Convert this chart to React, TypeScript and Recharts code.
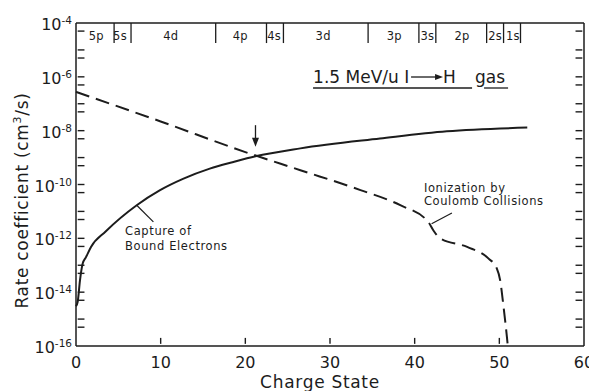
import { LineChart, Line, XAxis, YAxis, ReferenceDot, ReferenceLine, Label } from 'recharts';

// values (rate coefficients in cm^3/s)
const captureQ = [0, 0.2, 0.47, 0.79, 1.18, 1.77, 3.5, 7.17, 9.93, 12.7, 15.8, 18.6, 21.2, 26.5, 35.9, 43.8, 53.3];
const captureRate = [3e-15, 4.4e-15, 2.75e-14, 1.15e-13, 2.0e-13, 4.8e-13, 1.8e-12, 1.7e-11, 6.2e-11, 1.66e-10, 3.9e-10, 6.9e-10, 1.12e-9, 2.2e-9, 5.1e-9, 9.5e-9, 1.3e-8];

const ionizQ = [0, 10, 20, 26.5, 33.6, 38.3, 41.6, 42.2, 43, 46.2, 48.7, 49.7, 50.1, 50.5, 50.9, 51.0];
const ionizRate = [2.75e-7, 2.2e-8, 1.6e-9, 3.4e-10, 6.2e-11, 1.7e-11, 4.1e-12, 2.0e-12, 1.0e-12, 4.8e-13, 1.8e-13, 7.6e-14, 2.75e-14, 2.8e-15, 2.1e-16, 1e-16];

const shellEdges = [4.5, 6.5, 16.5, 22.5, 24.5, 34.5, 40.5, 42.5, 48.5, 50.5, 52.5];
const shellNames = ['5p', '5s', '4d', '4p', '4s', '3d', '3p', '3s', '2p', '2s', '1s'];
const shellMids = [2.4, 5.2, 11.2, 19.4, 23.4, 29.2, 37.6, 41.5, 45.6, 49.5, 51.6];

const xTicks = [0, 10, 20, 30, 40, 50, 60];
const decades = [-16, -15, -14, -13, -12, -11, -10, -9, -8, -7, -6, -5, -4];

const INK = '#1c1c1c';
const FONT = '"DejaVu Sans", sans-serif';
const X_MAX = 60;
const Y_MIN = 1e-16;
const Y_TOP = 1e-4;
const SHELL_TICK_END = 1.8e-5;
const SHELL_LABEL_Y = 2.3e-5;
// inward frame ticks, as data-space segments
const L_TICK = [0.2, 1.0];
const R_TICK = [59.0, 59.8];
const B_TICK = [1.2e-16, 2.0e-16];

const captureData = captureQ.map((q, i) => ({ q, rate: captureRate[i] }));
const ionizData = ionizQ.map((q, i) => ({ q, rate: ionizRate[i] }));
const yTicks: number[] = [];
decades.forEach((d) => {
  yTicks.push(Math.pow(10, d));
  if (d < -4) yTicks.push(5 * Math.pow(10, d));
});
const frameYTicks = yTicks.filter((t) => t > Y_MIN * 1.01 && t < Y_TOP * 0.99);

const LeftTick = (props: any) => {
  const { x, y, payload } = props;
  const e = Math.log10(payload.value);
  const ex = Math.round(e);
  if (Math.abs(e - ex) > 1e-6 || ex % 2 !== 0) return <g />;
  return (
    <text x={x - 4} y={y + 7} textAnchor="end" fontSize={16} fill={INK} fontFamily={FONT}>
      10
      <tspan fontSize={10.5} dy={-6}>{`-${-ex}`}</tspan>
    </text>
  );
};

const BottomTick = (props: any) => {
  const { x, y, payload } = props;
  return (
    <text x={x} y={y + 22} textAnchor="middle" fontSize={16} fill={INK} fontFamily={FONT}>
      {payload.value}
    </text>
  );
};

const note = (txt: string, size = 11.5, anchor: 'start' | 'middle' = 'start', spacing = 0.6) => (p: any) => (
  <text x={p.cx} y={p.cy} fontSize={size} fill={INK} fontFamily={FONT} letterSpacing={spacing} textAnchor={anchor}>
    {txt}
  </text>
);

const TitleShape = (p: any) => {
  const { cx, cy } = p;
  return (
    <g fill={INK} fontFamily={FONT} fontSize={17}>
      <text x={cx} y={cy}>1.5 MeV/u I</text>
      <line x1={cx + 98} x2={cx + 124} y1={cy - 6} y2={cy - 6} stroke={INK} strokeWidth={1.3} />
      <polygon points={`${cx + 130},${cy - 6} ${cx + 122},${cy - 9} ${cx + 122},${cy - 3}`} />
      <text x={cx + 130} y={cy}>H</text>
      <text x={cx + 162} y={cy}>gas</text>
      <line x1={cx} x2={cx + 159} y1={cy + 5} y2={cy + 5} stroke={INK} strokeWidth={1.3} />
      <line x1={cx + 171} x2={cx + 195} y1={cy + 5} y2={cy + 5} stroke={INK} strokeWidth={1.3} />
    </g>
  );
};

const ArrowHead = (p: any) => (
  <polygon points={`${p.cx},${p.cy} ${p.cx - 3.5},${p.cy - 9} ${p.cx + 3.5},${p.cy - 9}`} fill={INK} />
);

const axisStyle = { stroke: INK, strokeWidth: 1.5 };
const ref = { xAxisId: 'b', yAxisId: 'l', ifOverflow: 'visible' as const };

export default function App() {
  return (
    <div style={{ position: 'absolute', left: 0, top: 0, background: '#fff' }}>
      <LineChart width={589} height={391} margin={{ top: 23, right: 0, bottom: 0, left: 0 }}>
        <XAxis
          xAxisId="b"
          dataKey="q"
          type="number"
          domain={[0, X_MAX]}
          ticks={xTicks}
          interval={0}
          height={45}
          tickSize={0}
          tickMargin={0}
          tickLine={false}
          axisLine={axisStyle}
          tick={<BottomTick />}
        >
          <Label
            content={(props: any) => {
              const vb = props.viewBox;
              return (
                <text x={vb.x + vb.width / 2 - 10} y={vb.y + 42} textAnchor="middle" fontSize={17} letterSpacing={0.7} fill={INK} fontFamily={FONT}>
                  Charge State
                </text>
              );
            }}
          />
        </XAxis>
        <YAxis
          yAxisId="l"
          scale="log"
          type="number"
          domain={[Y_MIN, Y_TOP]}
          allowDataOverflow
          ticks={yTicks}
          interval={0}
          width={76}
          tickSize={0}
          tickMargin={0}
          tickLine={false}
          axisLine={axisStyle}
          tick={<LeftTick />}
        >
          <Label
            content={(props: any) => {
              const vb = props.viewBox;
              const cx = 28;
              const cy = vb.y + vb.height / 2 + 16;
              return (
                <text x={cx} y={cy} transform={`rotate(-90, ${cx}, ${cy})`} textAnchor="middle" fontSize={17} letterSpacing={0.7} fill={INK} fontFamily={FONT}>
                  Rate coefficient (cm<tspan fontSize={11} dy={-7}>3</tspan><tspan dy={7}>/s)</tspan>
                </text>
              );
            }}
          />
        </YAxis>
        <YAxis
          yAxisId="r"
          orientation="right"
          scale="log"
          type="number"
          domain={[Y_MIN, Y_TOP]}
          allowDataOverflow
          width={5}
          tickLine={false}
          axisLine={axisStyle}
          tick={false}
        />

        <ReferenceLine {...ref} y={Y_TOP} stroke={INK} strokeWidth={1.5} />
        {shellEdges.map((e) => (
          <ReferenceLine key={`edge-${e}`} {...ref} segment={[{ x: e, y: Y_TOP }, { x: e, y: SHELL_TICK_END }]} stroke={INK} strokeWidth={1.3} />
        ))}
        {shellMids.map((m, i) => (
          <ReferenceDot key={`shell-${i}`} {...ref} x={m} y={SHELL_LABEL_Y} r={0} shape={note(shellNames[i], 11.5, 'middle', 0.3)} />
        ))}

        {/* inward tick marks on the frame */}
        {frameYTicks.map((t) => (
          <ReferenceLine key={`ltick-${t}`} {...ref} segment={[{ x: L_TICK[0], y: t }, { x: L_TICK[1], y: t }]} stroke={INK} strokeWidth={1.4} />
        ))}
        {frameYTicks.map((t) => (
          <ReferenceLine key={`rtick-${t}`} {...ref} segment={[{ x: R_TICK[0], y: t }, { x: R_TICK[1], y: t }]} stroke={INK} strokeWidth={1.4} />
        ))}
        {xTicks.slice(1, -1).map((t) => (
          <ReferenceLine key={`btick-${t}`} {...ref} segment={[{ x: t, y: B_TICK[0] }, { x: t, y: B_TICK[1] }]} stroke={INK} strokeWidth={1.4} />
        ))}

        <Line
          xAxisId="b"
          yAxisId="l"
          data={captureData}
          dataKey="rate"
          type="monotone"
          stroke={INK}
          strokeWidth={2}
          dot={false}
          isAnimationActive={false}
        />
        <Line
          xAxisId="b"
          yAxisId="l"
          data={ionizData}
          dataKey="rate"
          type="monotone"
          stroke={INK}
          strokeWidth={2}
          strokeDasharray="14 7"
          dot={false}
          isAnimationActive={false}
        />

        <ReferenceDot {...ref} x={28.0} y={5.9e-7} r={0} shape={TitleShape} />
        <ReferenceDot {...ref} x={41.1} y={5.2e-11} r={0} shape={note('Ionization by')} />
        <ReferenceDot {...ref} x={41.1} y={1.7e-11} r={0} shape={note('Coulomb Collisions')} />
        <ReferenceLine {...ref} segment={[{ x: 44.4, y: 8.7e-12 }, { x: 42.0, y: 3.5e-12 }]} stroke={INK} strokeWidth={1.2} />
        <ReferenceDot {...ref} x={5.8} y={1.3e-12} r={0} shape={note('Capture of')} />
        <ReferenceDot {...ref} x={5.8} y={3.6e-13} r={0} shape={note('Bound Electrons')} />
        <ReferenceLine {...ref} segment={[{ x: 7.17, y: 1.7e-11 }, { x: 9.14, y: 4.1e-12 }]} stroke={INK} strokeWidth={1.2} />
        <ReferenceLine {...ref} segment={[{ x: 21.2, y: 1.6e-8 }, { x: 21.2, y: 3.5e-9 }]} stroke={INK} strokeWidth={1.3} />
        <ReferenceDot {...ref} x={21.2} y={2.5e-9} r={0} shape={ArrowHead} />
      </LineChart>
    </div>
  );
}
